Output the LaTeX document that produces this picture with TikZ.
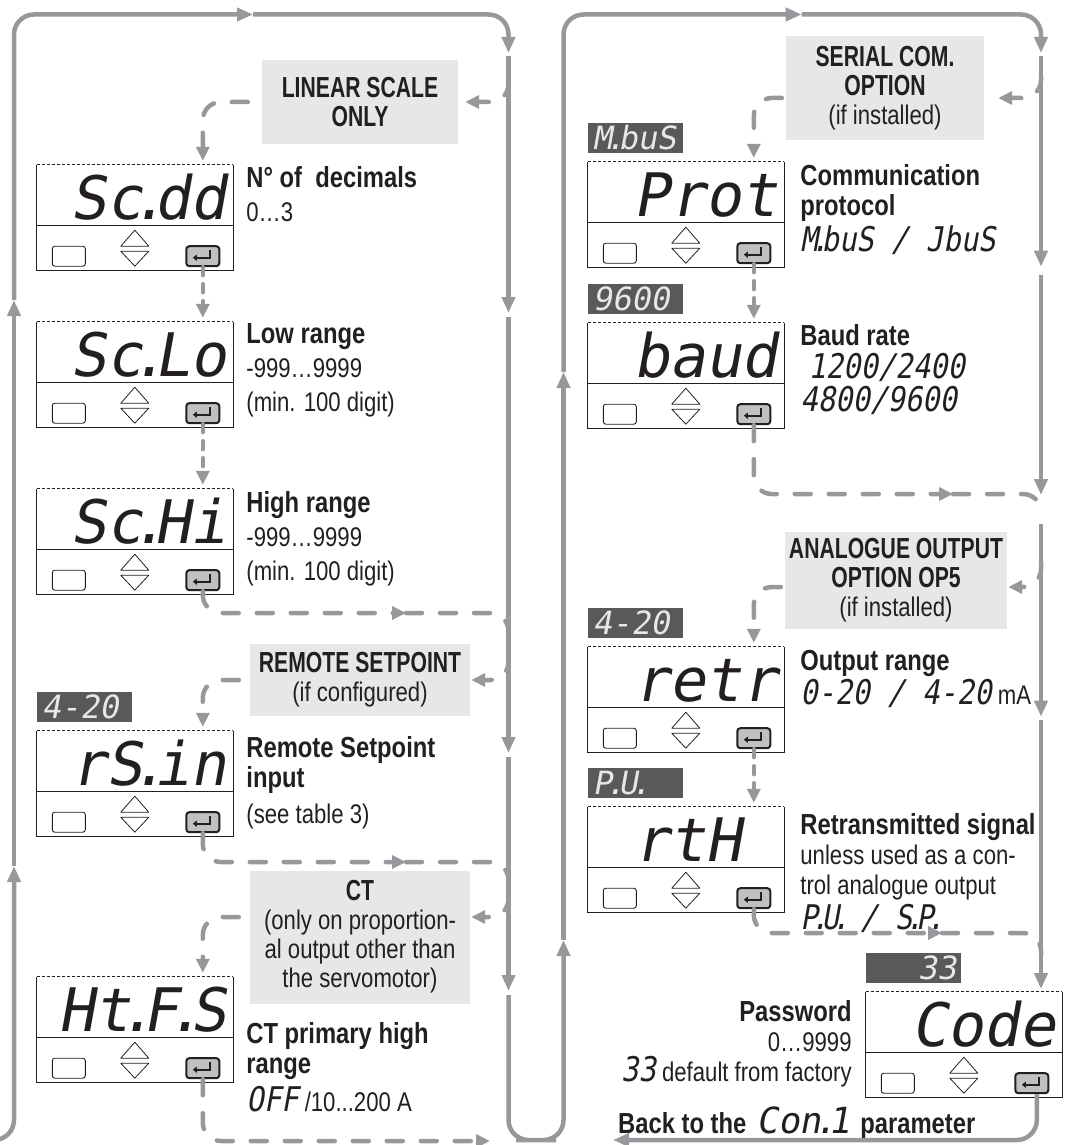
\documentclass[tikz,border=0pt]{standalone}
\usepackage{fontspec}
\setmainfont{Liberation Sans}[FakeStretch=0.82]
\newfontfamily\segfont{DejaVu Sans Mono}[FakeSlant=0.18]
\newfontfamily\segfontn{DejaVu Sans Mono}[FakeSlant=0.18, FakeStretch=0.85]
\newfontfamily\cabfont{Liberation Sans}[FakeStretch=0.73]
\usetikzlibrary{arrows.meta,calc,positioning}
\definecolor{gris}{RGB}{150,152,155}
\definecolor{grisclaro}{RGB}{230,231,232}
\definecolor{grisoscuro}{RGB}{88,89,91}
\definecolor{grisboton}{RGB}{190,192,194}
\definecolor{negro}{RGB}{35,31,32}
\newcommand{\dt}{\kern-0.2em.\kern-0.2em}
\newcommand{\cab}[1]{{\cabfont\bfseries\fontsize{29}{30}\selectfont #1}}
\newcommand{\tit}[1]{{\bfseries\fontsize{29}{30}\selectfont #1}}
\newcommand{\segs}[1]{{\segfontn\mdseries\fontsize{34}{30}\selectfont #1}}

\begin{document}
\begin{tikzpicture}[x=1pt, y=-1pt, text=negro,
  caja/.style={minimum width=196pt, minimum height=105pt, inner sep=0pt},
  borde/.style={draw=negro, line width=1.1pt},
  tecla/.style={draw=negro, line width=0.9pt, rounded corners=2.5pt, fill=white, minimum width=33pt, minimum height=20pt, inner sep=0pt},
  intro/.style={draw=negro, line width=2pt, rounded corners=3pt, fill=grisboton, minimum width=33pt, minimum height=20pt, inner sep=0pt},
  seg7/.style={font=\segfont\fontsize{60}{60}\selectfont, anchor=base east, inner sep=0pt},
  etiq/.style={fill=grisoscuro, text=grisclaro, font=\segfont\fontsize{32}{32}\selectfont, minimum height=30pt, inner xsep=4.5pt, inner ysep=0pt, text width=86pt, align=left},
  aviso/.style={fill=grisclaro, inner sep=0pt, align=center, font=\fontsize{27}{29}\selectfont},
  texto/.style={inner sep=0pt, anchor=north west, align=left, font=\fontsize{27}{30}\selectfont},
  flujo/.style={draw=gris, line width=4.5pt, rounded corners=20pt},
  punta/.style={-{Triangle[length=16pt,width=13pt]}},
  puntita/.style={-{Triangle[length=14pt,width=13pt]}},
  salto/.style={draw=gris, line width=4.5pt, line cap=round, dash pattern=on 16pt off 18pt, rounded corners=18pt},
  paso/.style={draw=gris, line width=4.5pt, line cap=round, dash pattern=on 8pt off 9pt}]

  \useasboundingbox (0,0) rectangle (1065,1145);
  \clip (0,0) rectangle (1065,1145);

  % circuito principal
  \draw[flujo, punta] (-30,1140) -| (14,866);
  \draw[flujo, punta] (14,866) -- (14,300);
  \draw[flujo, punta] (14,300) |- (253,14.5);
  \draw[flujo, punta] (253,14.5) -| (508.5,53);
  \draw[flujo, punta] (508.5,56) -- (508.5,313);
  \draw[flujo, punta] (508.5,317) -- (508.5,753);
  \draw[flujo, punta] (508.5,757) -- (508.5,991);
  \draw[flujo, punta] (508.5,995) |- (536,1140) -| (563.5,940);
  \draw[flujo, punta] (563.5,940) -- (563.5,372);
  \draw[flujo, punta] (563.5,372) |- (801.7,14.5);
  \draw[flujo, punta] (801.7,14.5) -| (1041,53);
  \draw[flujo, punta] (1041,56) -- (1041,266.7);
  \draw[flujo, punta] (1041,275) -- (1041,495);
  \draw[flujo, punta] (1041,524) -- (1041,716.7);
  \draw[flujo, punta] (1041,720) -- (1041,989);

  % pantallas
  \foreach \n/\x/\y/\txt in {scdd/37/165/{Sc\dt dd}, sclo/37/322/{Sc\dt Lo}, schi/37/489/{Sc\dt Hi},
      rsin/37/731/{rS\dt in}, htfs/37/977/{Ht\dt F\dt S}, prot/588/162/{Prot}, baud/588/323/{baud},
      retr/588/647/{retr}, rth/588/807/{rtH\phantom{0}}, code/866/992/{Code}} {
    \node[caja] (\n) at ({\x+98},{\y+52.5}) {};
    \draw[borde, dash pattern=on 3pt off 2pt] (\n.north west) -- (\n.north east);
    \draw[borde] (\n.north west) -- (\n.south west) -- (\n.south east) -- (\n.north east);
    \draw[borde] ($(\n.north west)+(0,61)$) -- ($(\n.north east)+(0,61)$);
    \node[tecla] (\n-m) at ($(\n.south west)+(32,-14)$) {};
    \node[intro] (\n-e) at ($(\n.south west)+(166,-14)$) {};
    \draw[negro, line width=1.6pt, -{Triangle[length=4pt,width=6pt]}] ($(\n-e)+(7,-6)$) -- ($(\n-e)+(7,1.5)$) -- ($(\n-e)+(-10,1.5)$);
    \draw[borde, line width=0.8pt, line join=round] ($(\n.south west)+(84,-24)$) -- ++(14,-16) -- ++(14,16) -- cycle;
    \draw[borde, line width=0.8pt, line join=round] ($(\n.south west)+(84,-19)$) -- ++(14,15) -- ++(14,-15) -- cycle;
    \node[seg7] (\n-t) at ($(\n.north east)+(-6,55)$) {\txt};
  }

  % valores por defecto
  \node[etiq, above right=9pt and 0pt of rsin.north west] (l-rsin) {4-20};
  \node[etiq, above right=9pt and 0pt of prot.north west] (l-prot) {M\dt buS};
  \node[etiq, above right=9pt and 0pt of baud.north west] (l-baud) {9600};
  \node[etiq, above right=9pt and 0pt of retr.north west] (l-retr) {4-20};
  \node[etiq, above right=9pt and 0pt of rth.north west] (l-rth) {P\dt U\dt};
  \node[etiq, align=right, above right=9pt and 0pt of code.north west] (l-code) {33};

  % condiciones
  \node[aviso, minimum width=196pt, minimum height=84pt] (linear) at (360,102) {\cab{LINEAR SCALE}\\\cab{ONLY}};
  \node[aviso, minimum width=198pt, minimum height=103pt] (serial) at (885,88) {\cab{SERIAL COM.}\\\cab{OPTION}\\(if installed)};
  \node[aviso, minimum width=220pt, minimum height=72pt] (remote) at (360,680) {\cab{REMOTE SETPOINT}\\(if configured)};
  \node[aviso, minimum width=220pt, minimum height=133pt] (ct) at (360,937) {\cab{CT}\\(only on proportion-\\al output other than\\the servomotor)};
  \node[aviso, minimum width=222pt, minimum height=97pt] (analog) at (896,580) {\cab{ANALOGUE OUTPUT}\\\cab{OPTION OP5}\\(if installed)};

  % descripciones
  \node[texto] (t-scdd) at ($(scdd.north east)+(13,1)$) {\tit{N° of~~decimals}\\[4pt]0…3};
  \node[texto] (t-sclo) at ($(sclo.north east)+(13,2)$) {\tit{Low range}\\[4pt]-999…9999\\[4pt](min. 100 digit)};
  \node[texto] (t-schi) at ($(schi.north east)+(13,2)$) {\tit{High range}\\[4pt]-999…9999\\[4pt](min. 100 digit)};
  \node[texto] (t-rsin) at ($(rsin.north east)+(13,5)$) {\tit{Remote Setpoint}\\\tit{input}\\[6pt](see table 3)};
  \node[texto] (t-htfs) at ($(htfs.north east)+(13,45)$) {\tit{CT primary high}\\\tit{range}\\[6pt]\segs{OFF} /10...200 A};
  \node[texto] (t-prot) at ($(prot.north east)+(16,2)$) {\tit{Communication}\\\tit{protocol}\\[4pt]\segs{M\dt buS / JbuS}};
  \node[texto] (t-baud) at ($(baud.north east)+(16,1)$) {\tit{Baud rate}\\[3pt]\hspace*{8pt}\segs{1200/2400}\\[3pt]\segs{4800/9600}};
  \node[texto] (t-retr) at ($(retr.north east)+(16,3)$) {\tit{Output range}\\[2pt]\segs{0-20 / 4-20} mA};
  \node[texto] (t-rth) at ($(rth.north east)+(16,6)$) {\tit{Retransmitted signal}\\unless used as a con-\\trol analogue output\\[4pt]\segs{P\dt U\dt{} / S\dt P\dt}};
  \node[texto, anchor=north east, align=right] (t-code) at ($(code.north west)+(-14,8)$) {\tit{Password}\\0…9999\\\segs{33} default from factory};
  \node[inner sep=0pt, anchor=base west, font=\bfseries\fontsize{29}{30}\selectfont] (volver) at (618,1133) {Back to the\hspace{10pt}{\segfont\mdseries\fontsize{36}{36}\selectfont Con\dt 1}\hspace{10pt}parameter};

  % saltos columna izquierda
  \draw[salto, puntita] (508.5,80) |- ([xshift=7pt]linear.east);
  \draw[salto, puntita, shorten <=14pt] (linear.west) -| ([yshift=4pt]scdd.north -| scdd-e);
  \draw[paso, puntita] (scdd-e.south) -- ([yshift=4pt]sclo.north -| scdd-e);
  \draw[paso, puntita] (sclo-e.south) -- ([yshift=4pt]schi.north -| sclo-e);
  \draw[salto, puntita] (schi-e.south) |- (406,613);
  \draw[salto] (406,613) -| (508.5,640);
  \draw[salto, puntita] (508.5,655) |- ([xshift=1pt]remote.east);
  \draw[salto, puntita, shorten <=11pt] (remote.west) -| ([yshift=4pt]rsin.north -| rsin-e);
  \draw[salto, puntita] (rsin-e.south) |- (406,862);
  \draw[salto] (406,862) -| (508.5,890);
  \draw[salto, puntita] (508.5,895) |- ([xshift=1pt,yshift=20pt]ct.east);
  \draw[salto, puntita, shorten <=11pt] ([yshift=20pt]ct.west) -| ([yshift=4pt]htfs.north -| htfs-e);
  \draw[salto, puntita] (htfs-e.south) |- (490,1141);

  % saltos columna derecha
  \draw[salto, puntita] (1041,76) |- ([xshift=14pt,yshift=-10pt]serial.east);
  \draw[salto, puntita, shorten <=4pt] ([yshift=-10pt]serial.west) -| ([yshift=4pt]prot.north -| prot-e);
  \draw[paso, puntita] (prot-e.south) -- ([yshift=4pt]baud.north -| prot-e);
  \draw[salto, puntita] (baud-e.south) |- (953,494);
  \draw[salto] (953,494) -| (1041,515);
  \draw[salto, puntita] (1041,562) |- ([xshift=1pt,yshift=-7pt]analog.east);
  \draw[salto, puntita, shorten <=4pt] ([yshift=-7pt]analog.west) -| ([yshift=4pt]retr.north -| retr-e);
  \draw[paso, puntita] (retr-e.south) -- ([yshift=4pt]rth.north -| retr-e);
  \draw[salto, puntita] (rth-e.south) |- (942,933);
  \draw[salto] (942,933) -| (1041,955);

  % vuelta al principio
  \draw[flujo, punta] ([xshift=5pt]code-e.south) |- (613,1140);
\end{tikzpicture}
\end{document}
